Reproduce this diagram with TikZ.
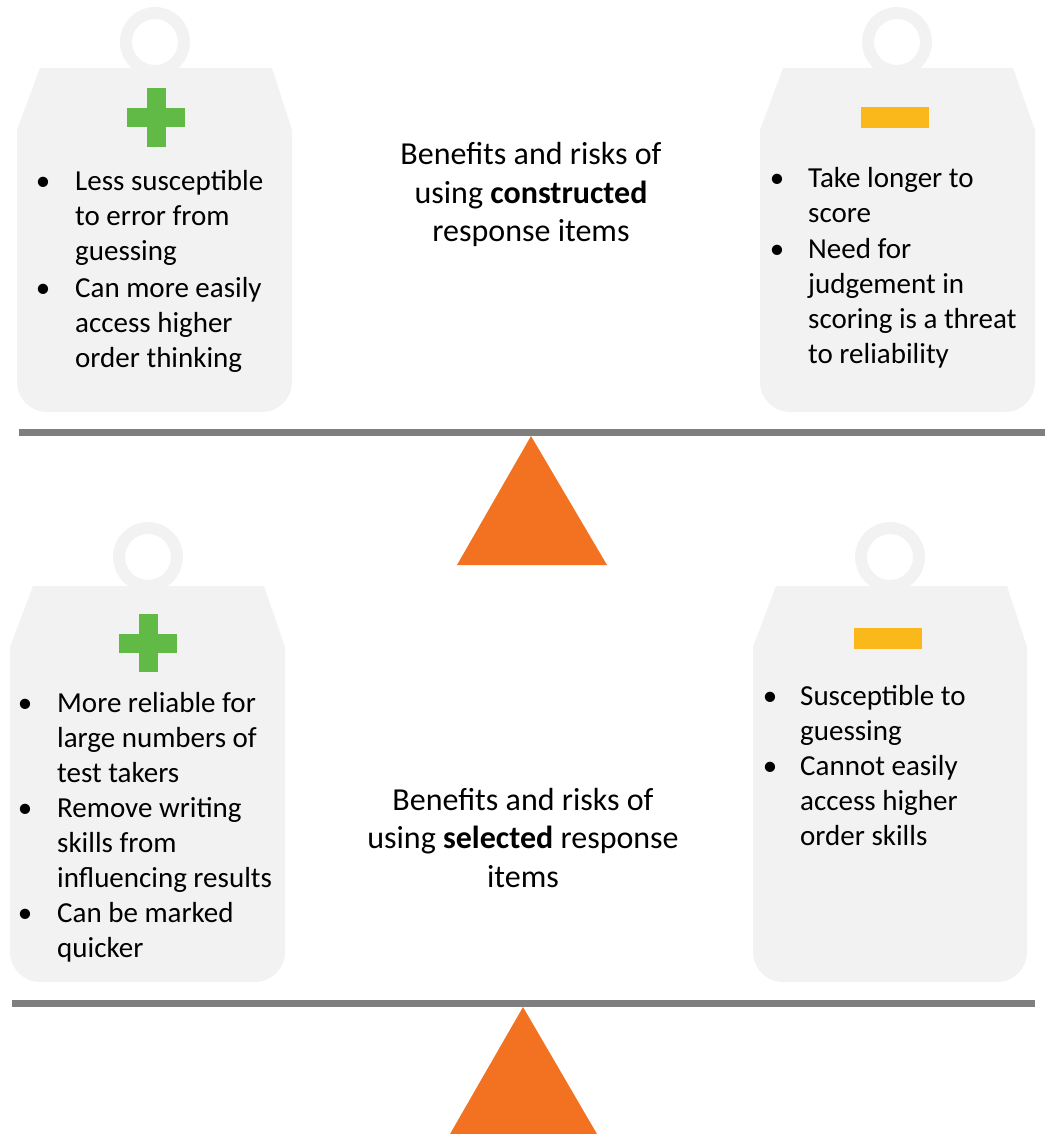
\documentclass[tikz,border=0pt]{standalone}
\usepackage{fontspec}
\setmainfont{Carlito}
\definecolor{wfill}{HTML}{F2F2F2}
\definecolor{beam}{HTML}{7F7F7F}
\definecolor{pivot}{HTML}{F37221}
\definecolor{plusgreen}{HTML}{62BA46}
\definecolor{minusgold}{HTML}{FBB81A}
\newcommand{\itemlines}[1]{\begin{tabular}[t]{@{}l@{}}#1\end{tabular}}
\newcommand{\titlelines}[1]{\begin{tabular}[t]{@{}c@{}}#1\end{tabular}}
\tikzset{
  item/.style={anchor=base west, inner sep=0pt, font=\fontsize{29}{35}\selectfont},
  dot/.style={anchor=base, inner sep=0pt, font=\fontsize{29}{35}\selectfont},
  title/.style={anchor=base, inner sep=0pt, font=\fontsize{32}{38.5}\selectfont},
  ring/.style={draw=wfill, line width=12pt}
}
\begin{document}
\begin{tikzpicture}[x=1pt, y=-1pt]
\useasboundingbox (0,0) rectangle (1048,1134);
% constructed response
\draw[ring] (155,42) circle (29pt);
\fill[wfill] (40,68) -- (272,68) -- (292,130) -- (292,382) arc[start angle=0, end angle=-90, radius=30pt] -- (47,412) arc[start angle=270, end angle=180, radius=30pt] -- (17,130) -- cycle;
\draw[ring] (897,42) circle (29pt);
\fill[wfill] (783,68) -- (1013,68) -- (1035,130) -- (1035,382) arc[start angle=0, end angle=-90, radius=30pt] -- (790,412) arc[start angle=270, end angle=180, radius=30pt] -- (760,130) -- cycle;
\fill[plusgreen] (146.5,88) rectangle (165.5,147);
\fill[plusgreen] (127,108) rectangle (185,127);
\fill[minusgold] (861,107) rectangle (929,128);
\node[dot] (crDot1) at (43,190) {•};
\node[item] (crPro1) at (75,190) {\itemlines{Less susceptible\\to error from\\guessing}};
\node[dot] (crDot2) at (43,297) {•};
\node[item] (crPro2) at (75,297) {\itemlines{Can more easily\\access higher\\order thinking}};
\node[dot] (crDot3) at (777,187) {•};
\node[item] (crCon1) at (808,187) {\itemlines{Take longer to\\score}};
\node[dot] (crDot4) at (777,258) {•};
\node[item] (crCon2) at (808,258) {\itemlines{Need for\\judgement in\\scoring is a threat\\to reliability}};
\node[title] (crTitle) at (531,165) {\titlelines{Benefits and risks of\\using \textbf{constructed}\\response items}};
\fill[beam] (19,429) rectangle (1045,436);
\fill[pivot] (531,436) -- (607,565) -- (457,565) -- cycle;
% selected response
\draw[ring] (148,557) circle (29pt);
\fill[wfill] (33,586) -- (264,586) -- (285,647) -- (285,952) arc[start angle=0, end angle=-90, radius=30pt] -- (40,982) arc[start angle=270, end angle=180, radius=30pt] -- (10,647) -- cycle;
\draw[ring] (890,557) circle (29pt);
\fill[wfill] (776,586) -- (1007,586) -- (1027,647) -- (1027,952) arc[start angle=0, end angle=-90, radius=30pt] -- (783,982) arc[start angle=270, end angle=180, radius=30pt] -- (753,647) -- cycle;
\fill[plusgreen] (138.5,614) rectangle (157.5,672);
\fill[plusgreen] (119,633.5) rectangle (177,652.5);
\fill[minusgold] (854,628) rectangle (922,649);
\node[dot] (srDot1) at (25,712) {•};
\node[item] (srPro1) at (57,712) {\itemlines{More reliable for\\large numbers of\\test takers}};
\node[dot] (srDot2) at (25,817) {•};
\node[item] (srPro2) at (57,817) {\itemlines{Remove writing\\skills from\\influencing results}};
\node[dot] (srDot3) at (25,922) {•};
\node[item] (srPro3) at (57,922) {\itemlines{Can be marked\\quicker}};
\node[dot] (srDot4) at (770,705) {•};
\node[item] (srCon1) at (800,705) {\itemlines{Susceptible to\\guessing}};
\node[dot] (srDot5) at (770,775) {•};
\node[item] (srCon2) at (800,775) {\itemlines{Cannot easily\\access higher\\order skills}};
\node[title] (srTitle) at (523,810) {\titlelines{Benefits and risks of\\using \textbf{selected} response\\items}};
\fill[beam] (12,1000) rectangle (1035,1007);
\fill[pivot] (523,1007) -- (597,1134) -- (450,1134) -- cycle;
\end{tikzpicture}
\end{document}
